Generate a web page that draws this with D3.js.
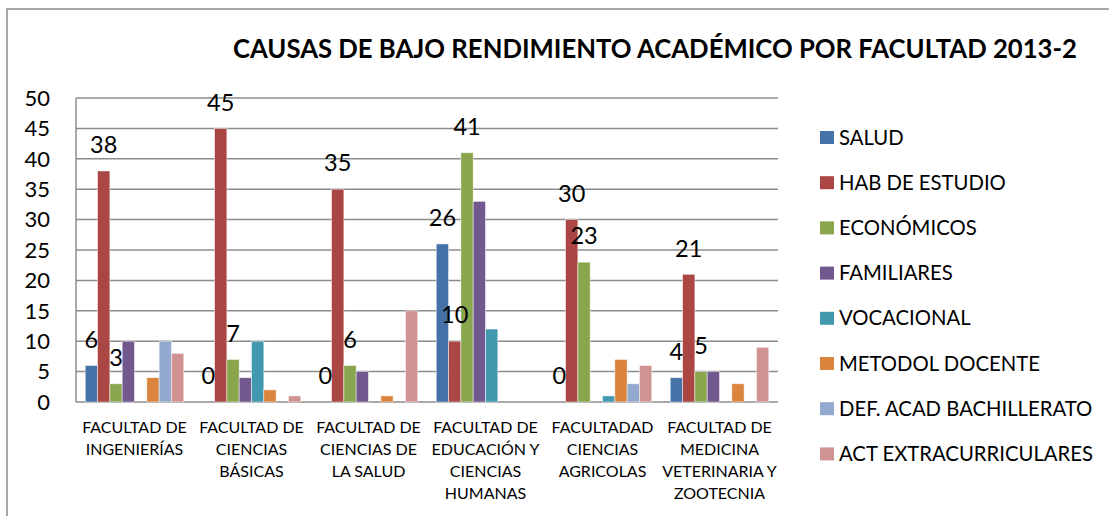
<!DOCTYPE html>
<html>
<head>
<meta charset="utf-8">
<script src="https://cdn.jsdelivr.net/npm/d3@7"></script>
<style>
  body { margin: 0; background: #fff; }
  svg { display: block; font-family: Lato, "Open Sans", sans-serif; }
</style>
</head>
<body>
<svg id="chart" width="1109" height="516"></svg>
<script>
// Causas de bajo rendimiento académico por facultad 2013-2

const categories = [
    "FACULTAD DE\nINGENIERÍAS",
    "FACULTAD DE\nCIENCIAS\nBÁSICAS",
    "FACULTAD DE\nCIENCIAS DE\nLA SALUD",
    "FACULTAD DE\nEDUCACIÓN Y\nCIENCIAS\nHUMANAS",
    "FACULTADAD\nCIENCIAS\nAGRICOLAS",
    "FACULTAD DE\nMEDICINA\nVETERINARIA Y\nZOOTECNIA"
];

const seriesNames = [
    "SALUD", "HAB DE ESTUDIO", "ECONÓMICOS", "FAMILIARES",
    "VOCACIONAL", "METODOL DOCENTE", "DEF. ACAD BACHILLERATO", "ACT EXTRACURRICULARES"
];

const salud = [6, 0, 0, 26, 0, 4];
const habEstudio = [38, 45, 35, 10, 30, 21];
const economicos = [3, 7, 6, 41, 23, 5];
const familiares = [10, 4, 5, 33, 0, 5];
const vocacional = [0, 10, 0, 12, 1, 0];
const metodDocente = [4, 2, 1, 0, 7, 3];
const defAcad = [10, 0, 0, 0, 3, 0];
const actExtra = [8, 1, 15, 0, 6, 9];

const seriesValues = [salud, habEstudio, economicos, familiares, vocacional, metodDocente, defAcad, actExtra];
const labelledSeries = ["SALUD", "HAB DE ESTUDIO", "ECONÓMICOS"];

const yTicks = [0, 5, 10, 15, 20, 25, 30, 35, 40, 45, 50];
const title = "CAUSAS DE BAJO RENDIMIENTO ACADÉMICO POR FACULTAD 2013-2";

const colors = ["#4572A7", "#AA4643", "#89A54E", "#71588F", "#4198AF", "#DB843D", "#93A9CF", "#D19392"];

const svg = d3.select("#chart");
const plot = {left: 76, right: 778, top: 98, bottom: 402};

// outer frame (only top and left edges fall inside the picture)
svg.append("rect")
    .attr("x", 7).attr("y", 9)
    .attr("width", 1300).attr("height", 700)
    .attr("fill", "none")
    .attr("stroke", "#8c8c8c")
    .attr("stroke-width", 1.5);

svg.append("text")
    .attr("x", 655)
    .attr("y", 49)
    .attr("dy", "0.35em")
    .attr("text-anchor", "middle")
    .style("font-weight", "bold")
    .style("font-size", "25.7px")
    .text(title);

const y = d3.scaleLinear().domain([0, 50]).range([plot.bottom, plot.top]);
const x0 = d3.scaleBand().domain(categories).range([plot.left, plot.right]);
const x1 = d3.scaleBand().domain(seriesNames).range([0, x0.bandwidth()]).paddingInner(0).paddingOuter(0.75);
const color = d3.scaleOrdinal().domain(seriesNames).range(colors);

// gridlines
svg.append("g")
    .selectAll("line")
    .data(yTicks)
    .join("line")
    .attr("x1", plot.left).attr("x2", plot.right)
    .attr("y1", d => y(d)).attr("y2", d => y(d))
    .attr("stroke", "#8c8c8c")
    .attr("stroke-width", 1.5);

svg.append("line")
    .attr("x1", plot.left).attr("x2", plot.left)
    .attr("y1", plot.top).attr("y2", plot.bottom)
    .attr("stroke", "#8c8c8c")
    .attr("stroke-width", 1.5);

// y tick labels
svg.append("g")
    .selectAll("text")
    .data(yTicks)
    .join("text")
    .attr("x", 50)
    .attr("y", d => y(d))
    .attr("dy", "0.35em")
    .attr("text-anchor", "end")
    .style("font-size", "22px")
    .text(d => d);

// bars
const rows = categories.map((c, i) => ({
    category: c,
    values: seriesNames.map((s, j) => ({series: s, value: seriesValues[j][i]}))
}));

const groups = svg.append("g")
    .selectAll("g")
    .data(rows)
    .join("g")
    .attr("transform", d => `translate(${x0(d.category)},0)`);

groups.selectAll("rect")
    .data(d => d.values)
    .join("rect")
    .attr("x", d => x1(d.series))
    .attr("width", x1.bandwidth())
    .attr("y", d => y(d.value))
    .attr("height", d => y(0) - y(d.value))
    .attr("fill", d => color(d.series))
    .attr("stroke", "#fff")
    .attr("stroke-opacity", 0.6)
    .attr("stroke-width", 0.8);

// data labels for the first three series
groups.selectAll("text")
    .data(d => d.values.filter(v => labelledSeries.includes(v.series)))
    .join("text")
    .attr("x", d => x1(d.series) + x1.bandwidth() / 2)
    .attr("y", d => y(d.value) - 26)
    .attr("dy", "0.35em")
    .attr("text-anchor", "middle")
    .style("font-size", "23.5px")
    .text(d => d.value);

// category labels
svg.append("g")
    .selectAll("text")
    .data(categories)
    .join("text")
    .attr("text-anchor", "middle")
    .style("font-size", "16px")
    .attr("transform", d => `translate(${x0(d) + x0.bandwidth() / 2},427)`)
    .selectAll("tspan")
    .data(d => d.split("\n"))
    .join("tspan")
    .attr("x", 0)
    .attr("y", (d, i) => i * 22)
    .attr("dy", "0.35em")
    .text(d => d);

// legend
const legend = svg.append("g")
    .selectAll("g")
    .data(seriesNames)
    .join("g")
    .attr("transform", (d, i) => `translate(820,${137.5 + i * 45.2})`);

legend.append("rect")
    .attr("x", 0).attr("y", -6.5)
    .attr("width", 14).attr("height", 13)
    .attr("fill", d => color(d));

legend.append("text")
    .attr("x", 19)
    .attr("dy", "0.35em")
    .style("font-size", "20.3px")
    .text(d => d);
</script>
</body>
</html>
